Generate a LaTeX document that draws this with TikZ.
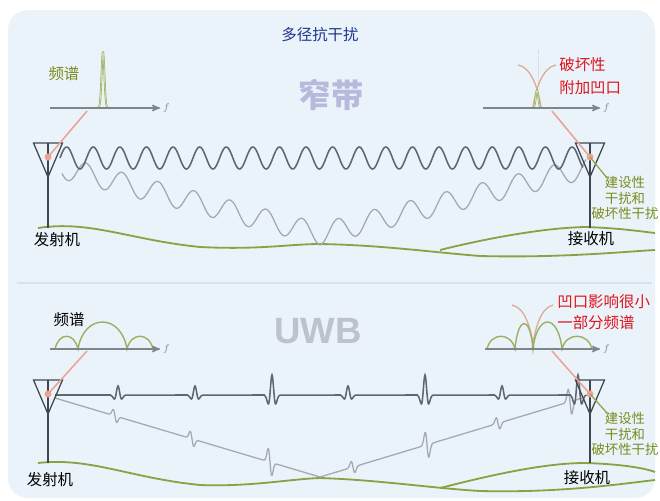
\documentclass[tikz,border=0pt]{standalone}
\usepackage{fontspec}
\setmainfont{Noto Sans CJK SC}
\newfontfamily\uwbfont{Liberation Sans}
\usepackage{tikz}
\usetikzlibrary{arrows,positioning}
\definecolor{panelbg}{HTML}{EAF3FA}
\definecolor{sepline}{HTML}{D5E3EE}
\definecolor{titleblue}{HTML}{1E3590}
\definecolor{nbgray}{HTML}{B7BADD}
\definecolor{uwbgray}{HTML}{BEC2CA}
\definecolor{olivetxt}{HTML}{7B8B1C}
\definecolor{redtxt}{HTML}{E0141E}
\definecolor{groundgreen}{HTML}{8BA244}
\definecolor{wavedark}{HTML}{5E666F}
\definecolor{wavelight}{HTML}{A3A8B1}
\definecolor{antgray}{HTML}{3F464E}
\definecolor{axisgray}{HTML}{7E858C}
\definecolor{specolive}{HTML}{9DB061}
\definecolor{notchsalmon}{HTML}{DDAA94}
\definecolor{linksalmon}{HTML}{EBA394}
\tikzset{
  lbl/.style = {inner sep=0pt, font=\fontsize{11}{13}\selectfont},
  lbl_red/.style = {lbl, text=redtxt, anchor=west},% texte rouge
  lbl_olive/.style = {inner sep=0pt, text=olivetxt, align=center,
    font=\fontsize{9.5}{11}\selectfont},
  fsym/.style = {inner sep=0pt, text=axisgray, font=\scriptsize},
  ant/.style = {draw=antgray, line width=0.9pt},% antenne
  ground/.style = {draw=groundgreen, line width=1.3pt},% sol
  wave_d/.style = {draw=wavedark, line width=1.1pt},% trajet direct
  wave_r/.style = {draw=wavelight, line width=0.9pt},% trajet reflechi
  axis/.style = {draw=axisgray, line width=1pt, -stealth'},
  spec/.style = {draw=specolive, line width=1pt},
  spec_peak/.style = {draw=specolive, double=white!75!specolive,
    double distance=0.35pt, line width=0.5pt},
  notch/.style = {draw=notchsalmon, line width=0.9pt},
  link/.style = {draw=linksalmon, line width=1.1pt},
  pointer/.style = {draw=olivetxt!80, line width=0.9pt}
}

\begin{document}
\begin{tikzpicture}[x=0.025cm, y=-0.025cm]
\useasboundingbox (0,0) rectangle (660,501);
\fill[panelbg, rounded corners=14] (8,10) rectangle (655,498);
\draw[sepline, line width=1pt] (17,283) -- (652,283);

\node[lbl, text=titleblue] (title) at (320,35) {多径抗干扰};
\node[inner sep=0pt, text=nbgray, font=\fontsize{23}{23}\bfseries\selectfont]
  (lbl_nb) at (331,95) {窄带};
\node[inner sep=0pt, text=uwbgray, font=\uwbfont\fontsize{26}{26}\bfseries\selectfont]
  (lbl_uwb) at (318,331) {UWB};

% sol
\draw[ground] (38,228) .. controls (90,220) and (130,240) .. (200,247)
  .. controls (260,250) and (290,244) .. (320,244)
  .. controls (380,245) and (430,252) .. (480,256)
  .. controls (560,258) and (620,252) .. (655,250);
\draw[ground] (440,250) .. controls (480,240) and (540,228) .. (585,227)
  .. controls (620,228) and (645,232) .. (655,233);
\draw[ground] (38,463) .. controls (90,457) and (130,478) .. (200,485)
  .. controls (250,487) and (290,479) .. (320,478)
  .. controls (380,480) and (430,488) .. (480,491)
  .. controls (560,493) and (620,484) .. (655,480);
\draw[ground] (440,488) .. controls (480,478) and (540,463) .. (585,463)
  .. controls (620,464) and (645,468) .. (655,472);

% narrow band
\draw[wave_r] plot[domain=62:320, samples=300]
  (\x,{168+(\x-62)*0.2558+11*cos(10*(320-\x))});
\draw[wave_r] plot[domain=320:586, samples=300]
  (\x,{234-(\x-320)*0.2481+11*cos(10*(\x-320))});
\draw[wave_d] plot[domain=60:583, samples=600]
  (\x,{158-11*sin(13.534*(\x-60))});

% uwb
\coordinate (d2_start) at (55,395);
\coordinate (d2_end) at (586,395);
\coordinate (r2_start) at (55,398);
\coordinate (r2_low) at (320,477);
\coordinate (r2_end) at (582,398);
\draw[wave_r] (r2_start)
  \foreach \px/\ph in {115/6,192/7,270/13} {
    -- (\px-8,{398+(\px-8-55)*0.2981})
    -- plot[domain=\px-8:\px+8, samples=33]
      (\x,{398+(\x-55)*0.2981+\ph*2.33*((\x-\px)/2.5)*exp(-((\x-\px)/2.5)^2)})
  } -- (r2_low)
  \foreach \px/\ph in {353/6,427/13,498/6,570/13} {
    -- (\px-8,{477-(\px-8-320)*0.3015})
    -- plot[domain=\px-8:\px+8, samples=33]
      (\x,{477-(\x-320)*0.3015+\ph*2.33*((\x-\px)/2.5)*exp(-((\x-\px)/2.5)^2)})
  } -- (r2_end);
\draw[wave_d] (d2_start)
  \foreach \px/\ph in {118/9,195/9,272/20,348/9,425/20,502/9,578/20} {
    -- (\px-8,395)
    -- plot[domain=\px-8:\px+8, samples=33]
      (\x,{395-\ph*(1-2*((\x-\px)/3)^2)*exp(-((\x-\px)/3)^2)})
  } -- (d2_end);

% antennes
\foreach \n/\ax/\ay/\gy in {tx1/48/143/228, rx1/590/143/228,
                             tx2/48/380/463, rx2/590/380/463} {
  \coordinate (\n_l) at (\ax-14.5,\ay);
  \coordinate (\n_r) at (\ax+14.5,\ay);
  \coordinate (\n_tip) at (\ax,\ay+34);
  \coordinate (\n_top) at (\ax,\ay);
  \coordinate (\n_foot) at (\ax,\gy);
  \coordinate (\n_mid) at (\ax,\ay+14);
  \draw[ant] (\n_l) -- (\n_r) -- (\n_tip) -- cycle;
  \draw[ant] (\n_top) -- (\n_foot);
}
\node[lbl] (lbl_tx1) at (57,240) {发射机};
\node[lbl] (lbl_rx1) at (591,239) {接收机};
\node[lbl] (lbl_tx2) at (50,480) {发射机};
\node[lbl] (lbl_rx2) at (587,478) {接收机};

% spectres
\coordinate (sp1_a) at (50,108);
\coordinate (sp1_b) at (160,108);
\coordinate (sp1_hook) at (87,111);
\draw[spec_peak] plot[domain=97:109, samples=40]
  (\x,{108-56*exp(-((\x-103)/2)^2)});
\draw[axis] (sp1_a) -- (sp1_b);
\node[fsym, right=2pt of sp1_b] (f1) {$f$};
\node[lbl, text=olivetxt] (lbl_spec1) at (64,74) {频谱};

\coordinate (sp2_a) at (483,108);
\coordinate (sp2_b) at (600,108);
\coordinate (sp2_hook) at (552,111);
\draw[densely dotted, black!20] (538,50) -- (538,84);
\draw[notch] (518,65) .. controls (531,67) and (538,88) .. (541,107);
\draw[notch] (556,65) .. controls (543,67) and (536,88) .. (533,107);
\draw[spec_peak] plot[domain=532:542, samples=30]
  (\x,{108-18*exp(-((\x-537)/1.8)^2)});
\draw[axis] (sp2_a) -- (sp2_b);
\node[fsym, right=2pt of sp2_b] (f2) {$f$};
\node[lbl_red] (lbl_bad1) at (559,65) {破坏性};
\node[lbl_red] (lbl_bad2) at (559,88) {附加凹口};

\coordinate (sp3_a) at (50,349);
\coordinate (sp3_b) at (160,349);
\coordinate (sp3_hook) at (87,351);
\draw[spec] (55,349) .. controls (59,332) and (74,332) .. (78,349)
  .. controls (84,313) and (121,313) .. (127,349)
  .. controls (131,332) and (149,332) .. (153,349);
\draw[axis] (sp3_a) -- (sp3_b);
\node[fsym, right=2pt of sp3_b] (f3) {$f$};
\node[lbl] (lbl_spec2) at (69,320) {频谱};

\coordinate (sp4_a) at (485,349);
\coordinate (sp4_b) at (600,349);
\coordinate (sp4_hook) at (552,351);
\draw[notch] (512,305) .. controls (526,308) and (531,330) .. (534,349);
\draw[notch] (553,305) .. controls (540,308) and (535,330) .. (532,349);
\draw[spec] (487,349) .. controls (491,332) and (511,332) .. (515,349)
  .. controls (518,316) and (530,314) .. (533,349)
  .. controls (537,313) and (558,313) .. (562,349)
  .. controls (566,332) and (588,332) .. (592,349);
\draw[axis] (sp4_a) -- (sp4_b);
\node[fsym, right=2pt of sp4_b] (f4) {$f$};
\node[lbl_red] (lbl_small1) at (557,302) {凹口影响很小};
\node[lbl_red] (lbl_small2) at (557,323) {一部分频谱};

% liens spectre -> antenne
\foreach \s/\a in {sp1/tx1, sp2/rx1, sp3/tx2, sp4/rx2} {
  \draw[link] (\s_hook) -- (\a_mid);
  \fill[linksalmon] (\a_mid) circle[radius=3.5];
}

% interferences
\coordinate (mix1_tip) at (607,178);
\coordinate (mix2_tip) at (607,413);
\draw[pointer] (rx1_mid) -- (mix1_tip);
\draw[pointer] (rx2_mid) -- (mix2_tip);
\node[lbl_olive] (lbl_mix1) at (625,198) {建设性\\干扰和\\破坏性干扰};
\node[lbl_olive] (lbl_mix2) at (625,434) {建设性\\干扰和\\破坏性干扰};
\end{tikzpicture}
\end{document}
